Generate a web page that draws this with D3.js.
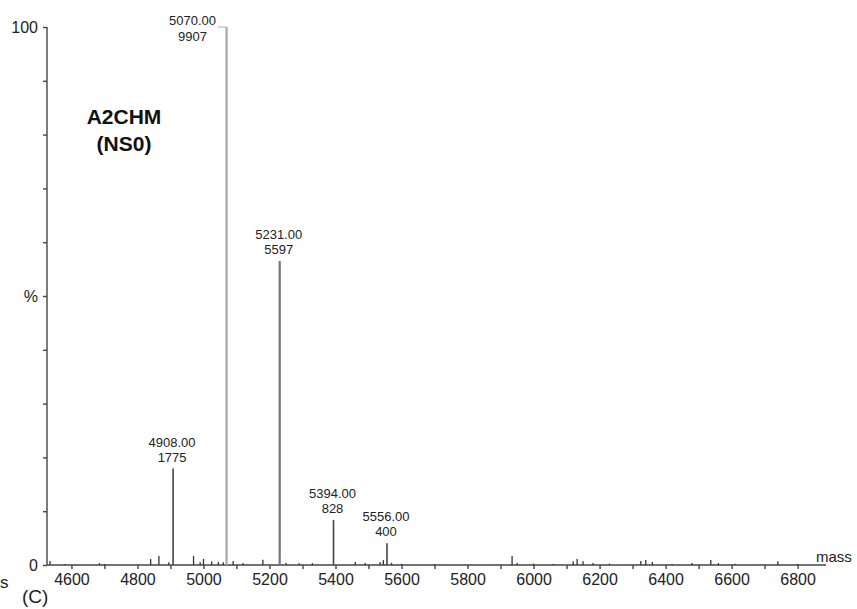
<!DOCTYPE html>
<html>
<head>
<meta charset="UTF-8">
<title>A2CHM (NS0) spectrum</title>
<script src="https://d3js.org/d3.v7.min.js"></script>
<style>
  body { margin: 0; background: #fff; }
  svg { display: block; font-family: "Liberation Sans", Arial, sans-serif; }
  .axis path, .axis line { stroke: #444; stroke-width: 1.4; }
  .axis text { fill: #222; font-size: 16px; }
  .lbl { fill: #222; font-size: 13px; text-anchor: middle; }
</style>
</head>
<body>
<svg id="chart" width="857" height="609"></svg>
<script>
// labelled peaks: mass and intensity (counts)
const peakMass = [4908, 5070, 5231, 5394, 5556];
const peakIntensity = [1775, 9907, 5597, 828, 400];

// small unlabelled peaks along the baseline
const minorMass = [4535, 4580, 4685, 4700, 4840, 4865, 4895, 4970, 4990, 5000, 5025, 5045, 5060, 5090, 5120,
                   5180, 5250, 5290, 5330, 5460, 5490, 5535, 5545, 5570, 5600, 5700, 5935, 5950, 6000, 6060,
                   6120, 6132, 6150, 6180, 6230, 6325, 6340, 6360, 6420, 6480, 6537, 6560, 6610, 6740, 6800];
const minorIntensity = [75, 20, 35, 20, 110, 165, 50, 165, 50, 110, 70, 55, 50, 75, 35,
                        95, 35, 30, 35, 55, 35, 55, 90, 40, 20, 20, 165, 35, 25, 20,
                        70, 110, 70, 35, 25, 75, 90, 55, 20, 35, 90, 35, 25, 70, 20];

const xTicks = d3.range(4600, 6900, 100);
const xLabels = [4600, 4800, 5000, 5200, 5400, 5600, 5800, 6000, 6200, 6400, 6600, 6800];
const yTicks = d3.range(0, 101, 10);
const yLabels = { 0: "0", 50: "%", 100: "100" };

const maxI = d3.max(peakIntensity);

const svg = d3.select("#chart");

const x = d3.scaleLinear().domain([4526, 6886]).range([47, 826]);
const y = d3.scaleLinear().domain([0, 100]).range([565, 27]);
const pct = v => v / maxI * 100;

// y axis
svg.append("g")
  .attr("class", "axis")
  .attr("transform", "translate(47,0)")
  .call(d3.axisLeft(y).tickValues(yTicks).tickSize(4).tickPadding(5)
    .tickFormat(d => yLabels[d] || ""))
  .call(g => g.select(".domain").attr("d", `M0,${y(100)}V${y(0)}`));

// x axis
svg.append("g")
  .attr("class", "axis")
  .attr("transform", "translate(0,565)")
  .call(d3.axisBottom(x).tickValues(xTicks).tickSize(4).tickPadding(5)
    .tickFormat(d => xLabels.includes(d) ? d : ""))
  .call(g => g.select(".domain").attr("d", `M${x(4526)},0H${x(6886)}`));

// minor peaks
svg.append("g").selectAll("line")
  .data(minorMass.map((m, i) => ({ m, v: minorIntensity[i] })))
  .join("line")
  .attr("x1", d => x(d.m)).attr("x2", d => x(d.m))
  .attr("y1", y(0)).attr("y2", d => y(pct(d.v)))
  .attr("stroke", "#333").attr("stroke-width", 1.3);

// main peaks
const peaks = peakMass.map((m, i) => ({ m, v: peakIntensity[i] }));
const peakColor = d => d.v === maxI ? "#a8a8a8" : (d.v > 5000 ? "#777" : "#444");

svg.append("g").selectAll("line")
  .data(peaks)
  .join("line")
  .attr("x1", d => x(d.m)).attr("x2", d => x(d.m))
  .attr("y1", y(0)).attr("y2", d => y(pct(d.v)))
  .attr("stroke", peakColor)
  .attr("stroke-width", d => d.v > 5000 ? 2.2 : 1.6);

// peak labels
const lbl = svg.append("g");
peaks.forEach(d => {
  const px = x(d.m), py = y(pct(d.v));
  if (d.v === maxI) {
    // base peak: label set to the left with a short leader
    lbl.append("text").attr("class", "lbl").attr("x", px - 34).attr("y", py - 2).text(d.m.toFixed(2));
    lbl.append("text").attr("class", "lbl").attr("x", px - 34).attr("y", py + 14).text(d.v);
    lbl.append("line").attr("x1", px - 9).attr("x2", px).attr("y1", py).attr("y2", py)
      .attr("stroke", "#aaa").attr("stroke-width", 1);
  } else {
    lbl.append("text").attr("class", "lbl").attr("x", px - 1).attr("y", py - 22).text(d.m.toFixed(2));
    lbl.append("text").attr("class", "lbl").attr("x", px - 1).attr("y", py - 7).text(d.v);
  }
});

// sample name
svg.append("text").attr("x", 124).attr("y", 124).attr("text-anchor", "middle")
  .attr("font-size", 21).attr("font-weight", "bold").attr("fill", "#111").text("A2CHM");
svg.append("text").attr("x", 124).attr("y", 151).attr("text-anchor", "middle")
  .attr("font-size", 21).attr("font-weight", "bold").attr("fill", "#111").text("(NS0)");

// axis title and panel marks
svg.append("text").attr("x", 816).attr("y", 562).attr("font-size", 15).attr("fill", "#222").text("mass");
svg.append("text").attr("x", 0).attr("y", 588).attr("font-size", 17).attr("fill", "#222").text("s");
svg.append("text").attr("x", 22).attr("y", 603).attr("font-size", 19).attr("fill", "#222").text("(C)");
</script>
</body>
</html>
